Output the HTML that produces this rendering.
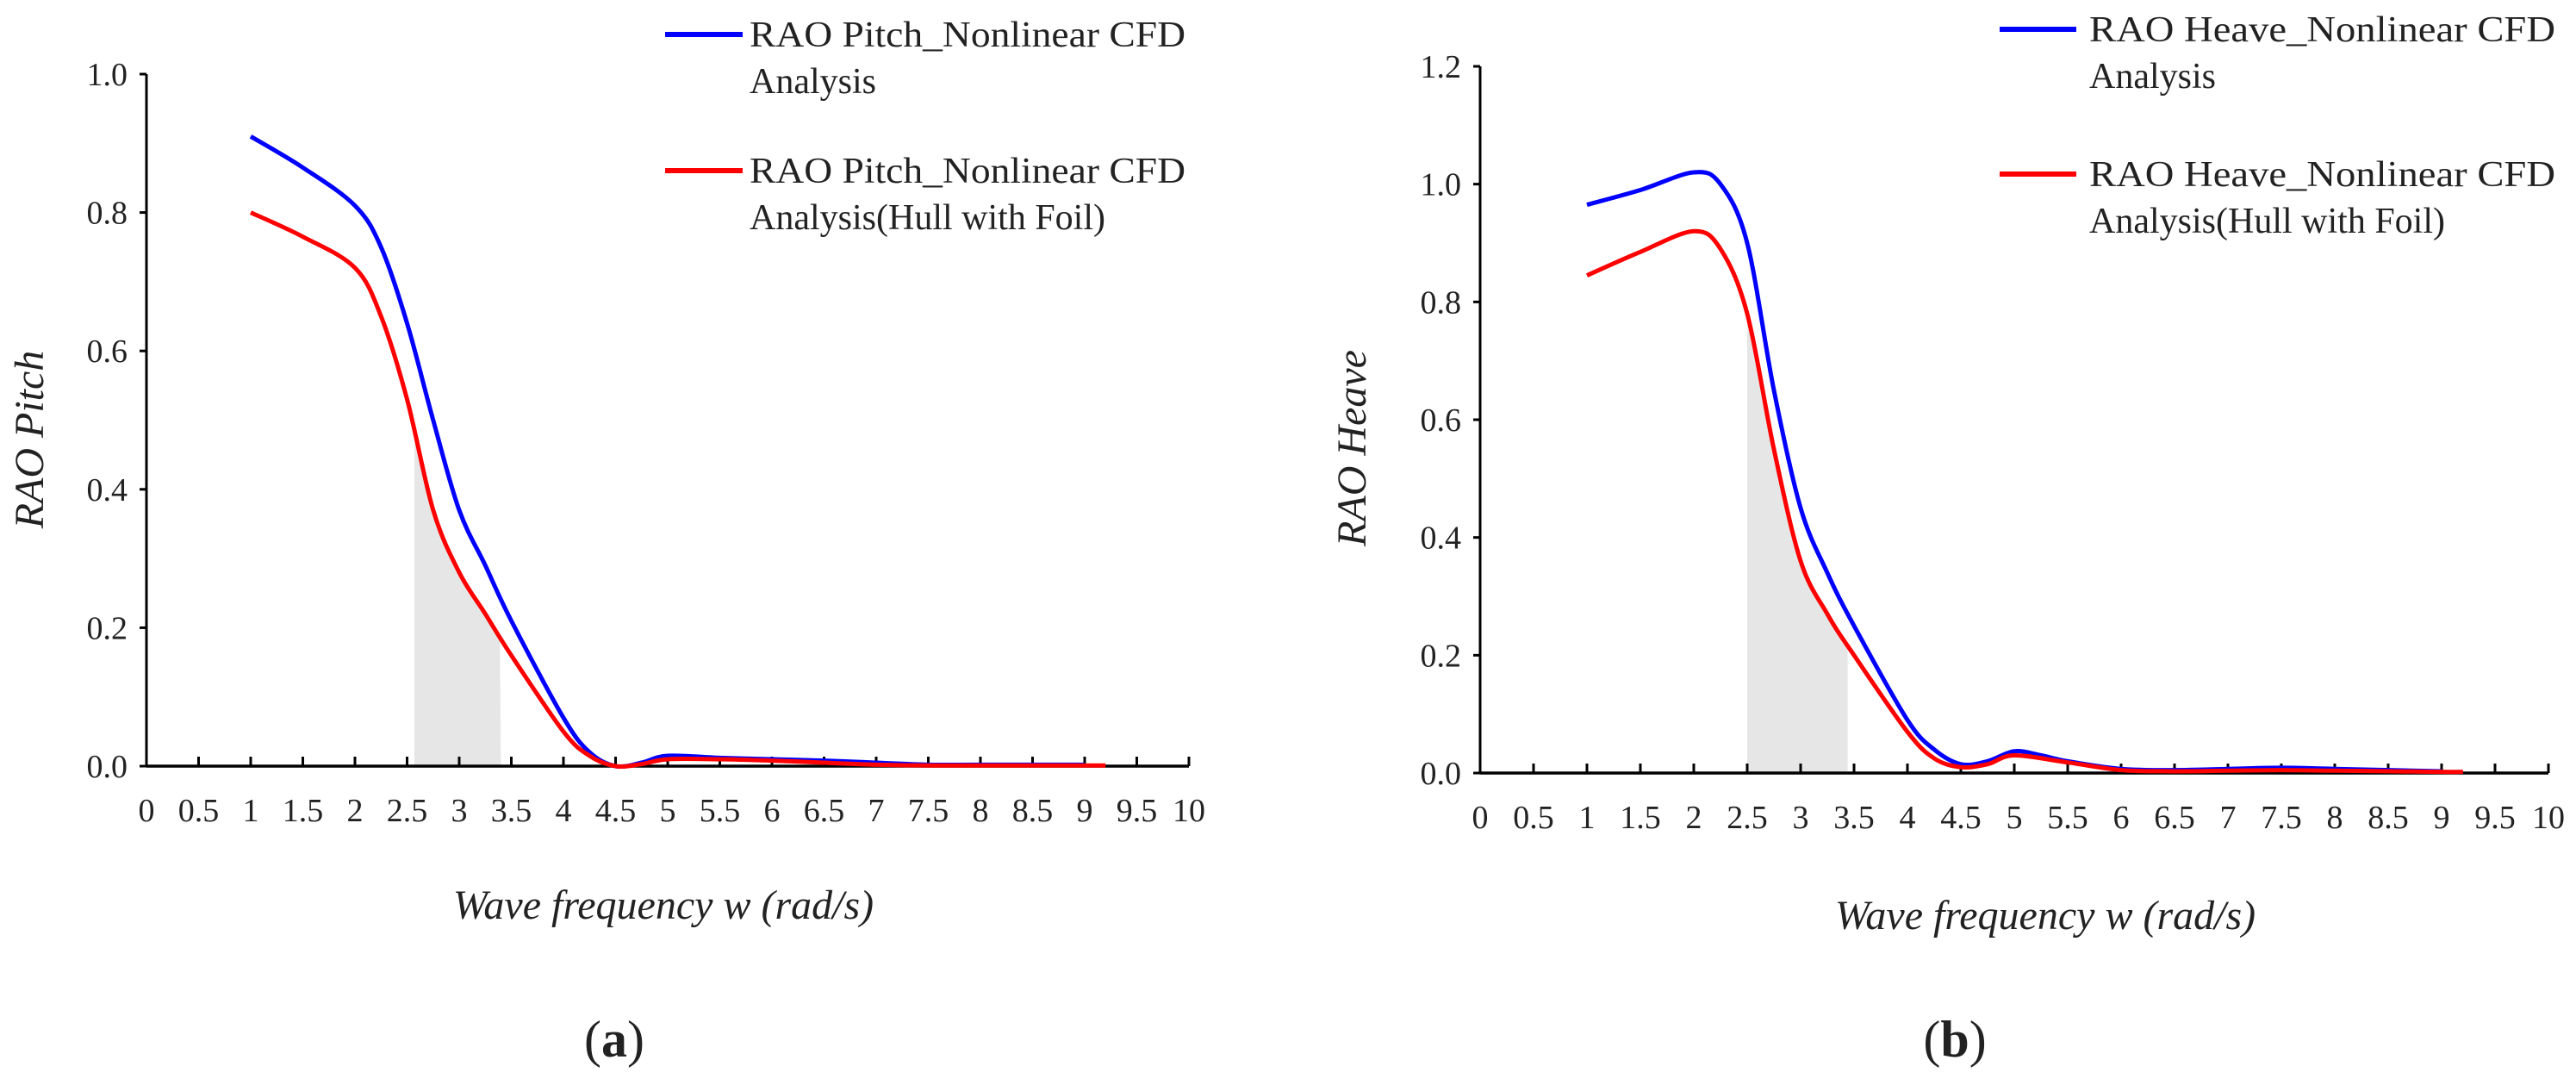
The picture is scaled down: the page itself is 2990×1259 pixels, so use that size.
<!DOCTYPE html>
<html><head><meta charset="utf-8"><style>
html,body{margin:0;padding:0;background:#fff;}
svg{display:block;}
text{font-family:"Liberation Serif",serif;fill:#222;}
</style></head><body>
<svg id="fig" width="2990" height="1259" viewBox="0 0 2990 1259" xmlns="http://www.w3.org/2000/svg"></svg>
<script>
// Shared x data
const xTicks = [0,0.5,1,1.5,2,2.5,3,3.5,4,4.5,5,5.5,6,6.5,7,7.5,8,8.5,9,9.5,10];
// Pitch chart (a)
const pitchX = [1,1.5,2,2.25,2.5,2.75,3,3.25,3.5,4,4.25,4.5,4.75,5,5.5,6,6.5,7,7.5,8,9];
const pitchBlue = [0.91,0.865,0.81,0.75,0.64,0.5,0.37,0.29,0.21,0.07,0.02,0.0,0.005,0.015,0.012,0.01,0.008,0.005,0.002,0.002,0.002];
const pitchRedX = [1,1.5,2,2.25,2.5,2.75,3,3.25,3.5,4,4.25,4.5,4.75,5,5.5,6,6.5,7,7.5,8,9,9.2];
const pitchRed = [0.80,0.765,0.72,0.65,0.53,0.37,0.28,0.22,0.16,0.05,0.015,0.0,0.003,0.01,0.01,0.008,0.005,0.002,0.001,0.001,0.001,0.001];
const pitchYTicks = [0,0.2,0.4,0.6,0.8,1.0];
const pitchShade = [2.57,3.4];
// Heave chart (b)
const heaveX = [1,1.5,2,2.25,2.5,2.75,3,3.25,3.5,4,4.25,4.5,4.75,5,5.25,5.5,6,6.5,7,7.5,8,9];
const heaveBlue = [0.965,0.99,1.02,1.0,0.9,0.65,0.45,0.34,0.25,0.09,0.04,0.015,0.02,0.037,0.03,0.02,0.007,0.005,0.007,0.009,0.007,0.003];
const heaveRedX = [1,1.5,2,2.25,2.5,2.75,3,3.25,3.5,4,4.25,4.5,4.75,5,5.5,6,6.5,7,7.5,8,9,9.2];
const heaveRed = [0.845,0.885,0.92,0.89,0.78,0.55,0.36,0.27,0.2,0.07,0.025,0.01,0.015,0.03,0.018,0.005,0.003,0.004,0.005,0.004,0.002,0.002];
const heaveYTicks = [0,0.2,0.4,0.6,0.8,1.0,1.2];
const heaveShade = [2.5,3.44];

const NS="http://www.w3.org/2000/svg";
const svg=document.getElementById('fig');
function mk(tag,attrs,parent){const e=document.createElementNS(NS,tag);for(const k in attrs)e.setAttribute(k,attrs[k]);(parent||svg).appendChild(e);return e;}
function smoothPath(pts){
  let d='M'+pts[0][0].toFixed(1)+','+pts[0][1].toFixed(1);
  for(let i=0;i<pts.length-1;i++){
    const p0=pts[Math.max(0,i-1)],p1=pts[i],p2=pts[i+1],p3=pts[Math.min(pts.length-1,i+2)];
    const c1=[p1[0]+(p2[0]-p0[0])/6,p1[1]+(p2[1]-p0[1])/6];
    const c2=[p2[0]-(p3[0]-p1[0])/6,p2[1]-(p3[1]-p1[1])/6];
    d+=' C'+c1[0].toFixed(1)+','+c1[1].toFixed(1)+' '+c2[0].toFixed(1)+','+c2[1].toFixed(1)+' '+p2[0].toFixed(1)+','+p2[1].toFixed(1);
  }
  return d;
}
function interp(xs,ys,x){
  for(let i=0;i<xs.length-1;i++){if(x>=xs[i]&&x<=xs[i+1]){const t=(x-xs[i])/(xs[i+1]-xs[i]);return ys[i]+t*(ys[i+1]-ys[i]);}}
  return ys[ys.length-1];
}
function chart(o){
  const g=mk('g',{});
  
  
  const sx=v=>o.x0+v*o.unit;
  const sy=v=>o.y0-(v/o.ymax)*(o.y0-o.ytop);
  // shade under red curve
  const sp=[];
  for(let x=o.shade[0];x<=o.shade[1]+1e-9;x+=0.02)sp.push([sx(x),sy(interp(o.rx,o.ry,x))]);
  let sd='M'+sx(o.shade[0])+','+o.y0;
  sp.forEach(p=>sd+=' L'+p[0].toFixed(1)+','+p[1].toFixed(1));
  sd+=' L'+sx(o.shade[1])+','+o.y0+' Z';
  const sh=mk('path',{d:sd,fill:'#e6e6e6'},g);
  
  
  // axes
  const ya=mk('line',{x1:o.x0,y1:o.ytop,x2:o.x0,y2:o.y0,stroke:'#000','stroke-width':3},g);
  
  
  const xa=mk('line',{x1:o.x0,y1:o.y0,x2:sx(10),y2:o.y0,stroke:'#000','stroke-width':3.5},g);
  
  
  o.yt.forEach(v=>{
    mk('line',{x1:o.x0-8,y1:sy(v),x2:o.x0,y2:sy(v),stroke:'#000','stroke-width':3},g);
    const t=mk('text',{x:o.x0-22,y:sy(v)+13,'text-anchor':'end','font-size':38},g);
    t.textContent=v.toFixed(1);
    
    
  });
  xTicks.forEach(v=>{
    if(v>0)mk('line',{x1:sx(v),y1:o.y0,x2:sx(v),y2:o.y0-11,stroke:'#000','stroke-width':3},g);
    const t=mk('text',{x:sx(v),y:o.y0+64,'text-anchor':'middle','font-size':38},g);
    t.textContent=String(v);
    
    
  });
  // series
  const bp=o.bx.map((x,i)=>[sx(x),sy(o.by[i])]);
  const rp=o.rx.map((x,i)=>[sx(x),sy(o.ry[i])]);
  const bl=mk('path',{d:smoothPath(bp),fill:'none',stroke:'#0000ff','stroke-width':5,'stroke-linejoin':'round'},g);
  
  
  const rl=mk('path',{d:smoothPath(rp),fill:'none',stroke:'#ff0000','stroke-width':5,'stroke-linejoin':'round'},g);
  
  
  // labels
  const yl=mk('text',{x:0,y:0,'text-anchor':'middle','font-size':48,'font-style':'italic',transform:'translate('+o.ylx+','+o.yly+') rotate(-90)'},g);
  yl.textContent=o.ylabel;
  
  
  const xl=mk('text',{x:o.xlx,y:o.xly,'text-anchor':'middle','font-size':48,'font-style':'italic'},g);
  xl.textContent='Wave frequency w (rad/s)';
  
  
  const pl=mk('text',{x:o.plx,y:1226,'text-anchor':'middle','font-size':60},g);
  pl.innerHTML='(<tspan font-weight="bold">'+o.panel+'</tspan>)';
  
  
  // legend
  const L=o.leg;
  [[L.by,'#0000ff',o.l1a,o.l1b,'legend-entry-blue'],[L.ry,'#ff0000',o.l2a,o.l2b,'legend-entry-red']].forEach(e=>{
    const lg=mk('g',{},g);
    
    
    mk('line',{x1:L.x1,y1:e[0],x2:L.x2,y2:e[0],stroke:e[1],'stroke-width':6},lg);
    const t1=mk('text',{x:L.tx,y:e[0]+14,'font-size':42,textLength:L.w,lengthAdjust:'spacingAndGlyphs'},lg);
    t1.textContent=e[2];
    const t2=mk('text',{x:L.tx,y:e[0]+68,'font-size':42},lg);
    t2.textContent=e[3];
  });
}
chart({name:'chart-a-rao-pitch',x0:170,unit:121,y0:889,ytop:86,ymax:1.0,yt:pitchYTicks,
  bx:pitchX,by:pitchBlue,rx:pitchRedX,ry:pitchRed,shade:pitchShade,
  ylabel:'RAO Pitch',ylx:50,yly:510,xlx:770,xly:1066,plx:713,panel:'a',
  leg:{x1:772,x2:862,tx:870,w:506,by:40,ry:198},
  l1a:'RAO Pitch_Nonlinear CFD',l1b:'Analysis',l2a:'RAO Pitch_Nonlinear CFD',l2b:'Analysis(Hull with Foil)'});
chart({name:'chart-b-rao-heave',x0:1718,unit:124,y0:897,ytop:77,ymax:1.2,yt:heaveYTicks,
  bx:heaveX,by:heaveBlue,rx:heaveRedX,ry:heaveRed,shade:heaveShade,
  ylabel:'RAO Heave',ylx:1585,yly:520,xlx:2374,xly:1078,plx:2269,panel:'b',
  leg:{x1:2321,x2:2410,tx:2425,w:541,by:34,ry:202},
  l1a:'RAO Heave_Nonlinear CFD',l1b:'Analysis',l2a:'RAO Heave_Nonlinear CFD',l2b:'Analysis(Hull with Foil)'});
</script>
</body></html>
